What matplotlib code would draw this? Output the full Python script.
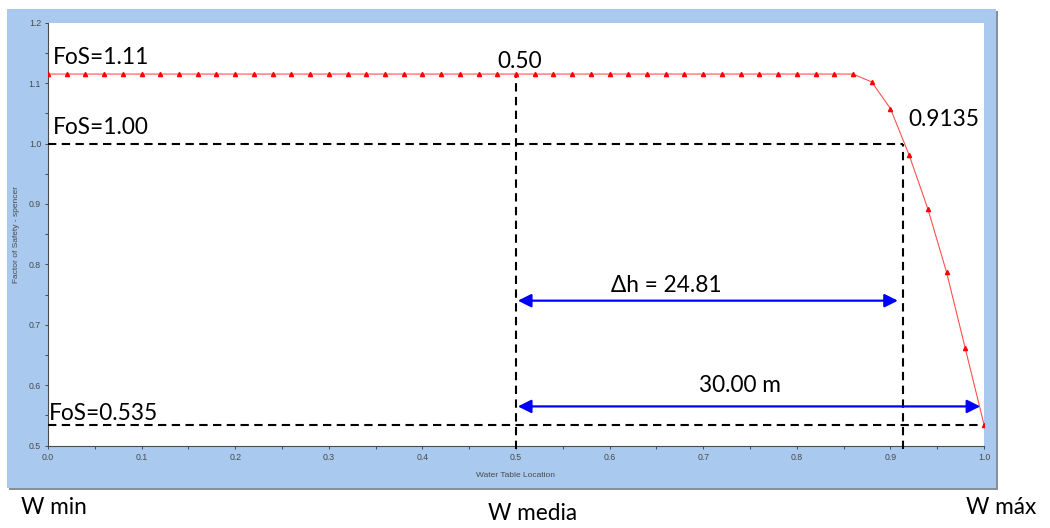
import matplotlib
matplotlib.use('Agg')
import matplotlib.pyplot as plt
from matplotlib.patches import Rectangle
from matplotlib.ticker import MultipleLocator, FormatStrFormatter

#region Data

water_table = [0.00, 0.02, 0.04, 0.06, 0.08, 0.10, 0.12, 0.14, 0.16, 0.18,
               0.20, 0.22, 0.24, 0.26, 0.28, 0.30, 0.32, 0.34, 0.36, 0.38,
               0.40, 0.42, 0.44, 0.46, 0.48, 0.50, 0.52, 0.54, 0.56, 0.58,
               0.60, 0.62, 0.64, 0.66, 0.68, 0.70, 0.72, 0.74, 0.76, 0.78,
               0.80, 0.82, 0.84, 0.86, 0.88, 0.90, 0.92, 0.94, 0.96, 0.98,
               1.00]

fos_spencer = [1.115, 1.115, 1.115, 1.115, 1.115, 1.115, 1.115, 1.115, 1.115, 1.115,
               1.115, 1.115, 1.115, 1.115, 1.115, 1.115, 1.115, 1.115, 1.115, 1.115,
               1.115, 1.115, 1.115, 1.115, 1.115, 1.115, 1.115, 1.115, 1.115, 1.115,
               1.115, 1.115, 1.115, 1.115, 1.115, 1.115, 1.115, 1.115, 1.115, 1.115,
               1.115, 1.115, 1.115, 1.115, 1.102, 1.058, 0.981, 0.892, 0.787, 0.661,
               0.535]

fos_max = 1.115
fos_one = 1.00
fos_min = 0.535
w_media = 0.50
w_critical = 0.9135
w_max = 1.00

dh_arrow_y = 0.740
full_arrow_y = 0.565

#endregion

#region Figure set-up

W, H = 1050, 528
fig = plt.figure(figsize=(W / 100, H / 100), dpi=100)
fig.patch.set_facecolor('white')

def fx(px):
    return px / W

def fy(py):
    return 1 - py / H

# light blue chart frame with a grey edge on right/bottom
frame_l, frame_t, frame_r, frame_b = 7, 9, 996, 488
fig.patches.append(Rectangle((fx(frame_l + 1.5), fy(frame_b + 1.5)), fx(frame_r - frame_l), fy(frame_t) - fy(frame_b),
                             transform=fig.transFigure, facecolor='#8a8f96', edgecolor='none', zorder=-3))
fig.patches.append(Rectangle((fx(frame_l), fy(frame_b)), fx(frame_r - frame_l), fy(frame_t) - fy(frame_b),
                             transform=fig.transFigure, facecolor='#a9caee', edgecolor='none', zorder=-2))

ax_l, ax_t, ax_r, ax_b = 48, 22.7, 984, 445.7
ax = fig.add_axes([fx(ax_l), fy(ax_b), fx(ax_r - ax_l), fy(ax_t) - fy(ax_b)])
ax.set_zorder(1)
ax.set_facecolor('white')
ax.set_xlim(0, 1)
ax.set_ylim(0.5, 1.2)

for s in ['top', 'right']:
    ax.spines[s].set_visible(False)
for s in ['left', 'bottom']:
    ax.spines[s].set_color('#4a4a4a')
    ax.spines[s].set_linewidth(0.8)

ax.xaxis.set_major_locator(MultipleLocator(0.1))
ax.xaxis.set_minor_locator(MultipleLocator(0.05))
ax.yaxis.set_major_locator(MultipleLocator(0.1))
ax.yaxis.set_minor_locator(MultipleLocator(0.05))
ax.xaxis.set_major_formatter(FormatStrFormatter('%.1f'))
ax.yaxis.set_major_formatter(FormatStrFormatter('%.1f'))
ax.tick_params(which='both', direction='out', length=2.5, width=0.7, color='#4a4a4a',
               labelsize=6.3, labelcolor='#4a4a4a', pad=2.5)
for lbl in ax.get_xticklabels() + ax.get_yticklabels():
    lbl.set_family('Liberation Sans')

ax.set_xlabel('Water Table Location', fontsize=6, color='#4a4a4a', family='Liberation Sans')
ax.set_ylabel('Factor of Safety - spencer', fontsize=6, color='#4a4a4a', family='Liberation Sans')
ax.xaxis.set_label_coords(0.5, -0.062)
ax.yaxis.set_label_coords(-0.030, 0.5)

#endregion

#region Curve and guide lines

ax.plot(water_table, fos_spencer, color='#ff5050', linewidth=0.8, zorder=4)
ax.plot(water_table, fos_spencer, linestyle='none', marker='^', markersize=3.0,
        color='#ff0000', zorder=5)

dash_kw = dict(color='black', linewidth=1.5, dashes=(4, 2.6), zorder=3)
ax.plot([0, w_critical], [fos_one, fos_one], **dash_kw)
ax.plot([0, w_max], [fos_min, fos_min], **dash_kw)
ax.plot([w_media, w_media], [0.495, fos_max - 0.004], clip_on=False, **dash_kw)
ax.plot([w_critical, w_critical], [0.495, fos_one], clip_on=False, **dash_kw)

arrow_kw = dict(arrowstyle='<|-|>', color='#0000ff', lw=1.6, mutation_scale=20,
                shrinkA=0, shrinkB=0)
ax.annotate('', xy=(0.908, dh_arrow_y), xytext=(0.502, dh_arrow_y), arrowprops=arrow_kw, zorder=6)
ax.annotate('', xy=(0.996, full_arrow_y), xytext=(0.502, full_arrow_y), arrowprops=arrow_kw, zorder=6)

#endregion

#region Labels

txt_kw = dict(family='Lato', fontsize=16.3, color='black', va='center')
fig.text(fx(53), fy(57), 'FoS=1.11', ha='left', zorder=5, **txt_kw)
fig.text(fx(53), fy(128), 'FoS=1.00', ha='left', zorder=5, **txt_kw)
fig.text(fx(49), fy(413), 'FoS=0.535', ha='left', zorder=5, **txt_kw)
fig.text(fx(520), fy(61), '0.50', ha='center', zorder=5, **txt_kw)
fig.text(fx(944), fy(120), '0.9135', ha='center', zorder=5, **txt_kw)
fig.text(fx(666), fy(285), 'Δh = 24.81', ha='center', zorder=5, **txt_kw)
fig.text(fx(740), fy(386), '30.00 m', ha='center', zorder=5, **txt_kw)

fig.text(fx(54), fy(507), 'W min', ha='center', zorder=5, **txt_kw)
fig.text(fx(533), fy(513), 'W media', ha='center', zorder=5, **txt_kw)
fig.text(fx(1001), fy(508), 'W máx', ha='center', zorder=5, **txt_kw)

#endregion

fig.savefig('out.png', dpi=100, facecolor='white')
